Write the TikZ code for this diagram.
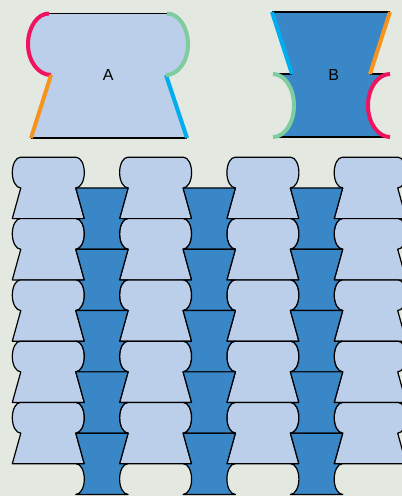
\documentclass[tikz,border=0pt]{standalone}
\usepackage{fontspec}
\setmainfont{Liberation Sans}
\definecolor{bgc}{HTML}{E3E9E1}
\definecolor{lightA}{HTML}{BBCEEA}
\definecolor{darkB}{HTML}{3A87C8}
\definecolor{cred}{HTML}{EE1460}
\definecolor{corange}{HTML}{F7941D}
\definecolor{ccyan}{HTML}{00AEEF}
\definecolor{cgreen}{HTML}{7FCC9F}
% half ellipse from (#1,#2) bulging to x=#3, ending at (#4,#2+#5)
\newcommand\hell[5]{.. controls ({#1+0.5523*(#3-(#1))},{#2}) and ({#3},{#2+0.5*(#5)*(1-0.5523)}) .. ({#3},{#2+0.5*(#5)}) .. controls ({#3},{#2+0.5*(#5)*(1+0.5523)}) and ({#4+0.5523*(#3-(#4))},{#2+(#5)}) .. ({#4},{#2+(#5)})}
\newcommand\tileA[2]{%
 \pgfmathsetmacro\xa{#1-28}\pgfmathsetmacro\xb{#1+28}%
 \pgfmathsetmacro\xn{#1-27.5}\pgfmathsetmacro\xnn{#1+27.5}%
 \pgfmathsetmacro\xl{#1-36}\pgfmathsetmacro\xr{#1+36}%
 \pgfmathsetmacro\yt{#2}\pgfmathsetmacro\yn{#2+30.65}\pgfmathsetmacro\yb{#2+61.3}%
 \path[tessA] (\xa,\yt) -- (\xb,\yt) \hell{\xb}{\yt}{\xr}{\xnn}{30.65} -- (\xr,\yb) -- (\xl,\yb) -- (\xn,\yn) \hell{\xn}{\yn}{\xl}{\xa}{-30.65} -- cycle;}
\newcommand\tileB[2]{%
 \pgfmathsetmacro\xa{#1-26.15}\pgfmathsetmacro\xb{#1+26.15}%
 \pgfmathsetmacro\xc{#1-17.65}\pgfmathsetmacro\xd{#1+17.65}%
 \pgfmathsetmacro\xe{#1-25.65}\pgfmathsetmacro\xf{#1+25.65}%
 \pgfmathsetmacro\yt{#2}\pgfmathsetmacro\yn{#2+30.65}\pgfmathsetmacro\yb{#2+61.3}%
 \path[tessB] (\xa,\yt) -- (\xb,\yt) -- (\xd,\yn) -- (\xf,\yn) \hell{\xf}{\yn}{\xd}{\xb}{30.65} -- (\xa,\yb) \hell{\xa}{\yb}{\xc}{\xe}{-30.65} -- (\xc,\yn) -- cycle;}
\tikzset{
 tessA/.style={fill=lightA, draw=black, line width=1.2pt, line join=round},
 tessB/.style={fill=darkB, draw=black, line width=1.2pt, line join=round},
 edgeline/.style={draw=black, line width=1.3pt},
 sideline/.style={line width=4pt},
 lbl/.style={font=\fontsize{16}{18}\selectfont, text=black}
}
\begin{document}
\begin{tikzpicture}[x=1pt,y=-1pt]
\useasboundingbox (0,0) rectangle (402,496);
\fill[bgc] (0,0) rectangle (402,496);
\clip (0,0) rectangle (402,496);
% tessellation
\foreach \i in {0,...,3}{
  \foreach \j in {0,...,4}{
    \pgfmathsetmacro\cx{48.3+107.3*\i}
    \pgfmathsetmacro\ty{157.3+61.3*\j}
    \tileA{\cx}{\ty}
  }
}
\foreach \i in {0,...,2}{
  \foreach \j in {0,...,4}{
    \pgfmathsetmacro\cx{101.95+107.3*\i}
    \pgfmathsetmacro\ty{187.95+61.3*\j}
    \tileB{\cx}{\ty}
  }
}
% tile A
\fill[lightA] (49,13.5) -- (167,13.5) \hell{167}{13.5}{188}{166}{61.5} -- (187,138) -- (31,138) -- (51,75) \hell{51}{75}{28}{49}{-61.5} -- cycle;
\draw[edgeline] (49,13.5) -- (167,13.5);
\draw[edgeline] (31,138) -- (187,138);
\draw[sideline, cred] (49,13.5) \hell{49}{13.5}{28}{51}{61.5};
\draw[sideline, corange] (51,75) -- (31,138);
\draw[sideline, ccyan] (187,138) -- (166,75);
\draw[sideline, cgreen] (166,75) \hell{166}{75}{188}{167}{-61.5};
\node[lbl] (labA) at (108.3,75) {A};
% tile B
\fill[darkB] (272,12) -- (390,12) -- (370,74) -- (390,74) \hell{390}{74}{368}{390}{63} -- (273,137) \hell{273}{137}{294}{273}{-63} -- (292,74) -- cycle;
\draw[edgeline] (272,12) -- (390,12);
\draw[edgeline] (273,137) -- (390,137);
\draw[edgeline] (292,74) -- (273,74);
\draw[edgeline] (370,74) -- (390,74);
\draw[sideline, ccyan] (272,12) -- (292,74);
\draw[sideline, corange] (370,74) -- (390,12);
\draw[sideline, cgreen] (273,74) \hell{273}{74}{294}{273}{63};
\draw[sideline, cred] (390,137) \hell{390}{137}{368}{390}{-63};
\node[lbl] (labB) at (333.7,75) {B};
\end{tikzpicture}
\end{document}
